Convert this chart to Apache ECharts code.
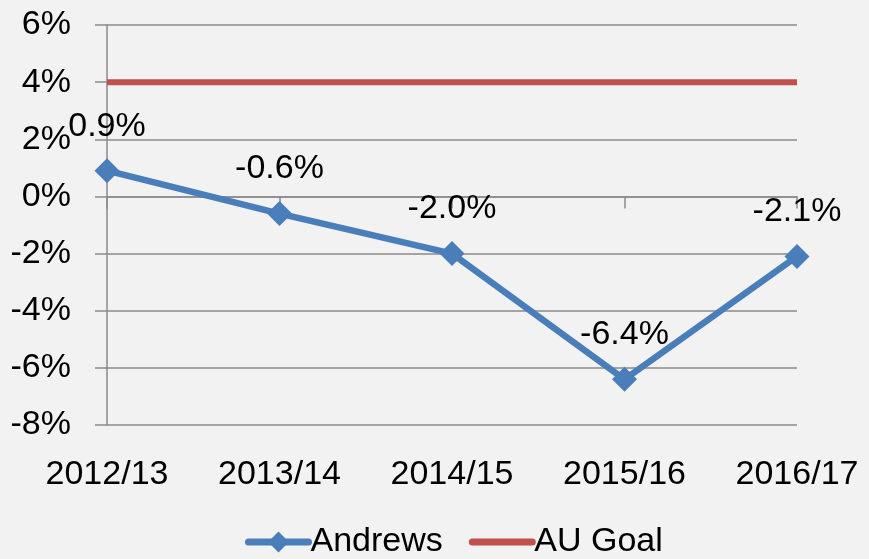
<!DOCTYPE html>
<html>
<head>
<meta charset="utf-8">
<script src="https://cdn.jsdelivr.net/npm/echarts@6/dist/echarts.min.js"></script>
<style>
  html, body { margin: 0; padding: 0; background: #f2f2f2; }
  #chart { width: 869px; height: 559px; }
</style>
</head>
<body>
<div id="chart"></div>
<script>
// data
const years = ['2012/13', '2013/14', '2014/15', '2015/16', '2016/17']
const andrews = [0.9, -0.6, -2.0, -6.4, -2.1]
const auGoal = [4, 4, 4, 4, 4]

const font = 'Liberation Sans'
const gray = '#8a8a8a'
const fs = 34

const chart = echarts.init(document.getElementById('chart'))
const opt = {
    backgroundColor: '#f2f2f2',
    animation: false,
    textStyle: { fontFamily: font },
    grid: { left: 107, right: 72, top: 25, bottom: 134 },
    legend: {
        top: 520,
        left: 240,
        itemWidth: 60,
        itemHeight: 26,
        itemGap: 26,
        lineStyle: { width: 7, cap: 'round' },
        textStyle: { fontSize: fs, color: '#000', fontFamily: font, padding: [0, 0, 0, -3] },
        data: [
            { name: 'Andrews' },
            { name: 'AU Goal', itemStyle: { opacity: 0 } }
        ]
    },
    xAxis: [
        {
            // labels at the bottom
            type: 'category',
            data: years,
            boundaryGap: false,
            axisLine: { show: false, onZero: false },
            axisTick: { show: false },
            axisLabel: { fontSize: fs, color: '#000', margin: 33, fontFamily: font }
        },
        {
            // axis line on zero with ticks
            type: 'category',
            data: years,
            boundaryGap: false,
            position: 'bottom',
            axisLine: { onZero: true, lineStyle: { color: gray, width: 1.5 } },
            axisTick: { show: true, length: 12, lineStyle: { color: gray, width: 1.5 } },
            axisLabel: { show: false }
        }
    ],
    yAxis: {
        type: 'value',
        min: -8,
        max: 6,
        interval: 2,
        axisLine: { show: true, lineStyle: { color: gray, width: 1.5 } },
        axisTick: { show: true, length: 12, lineStyle: { color: gray, width: 1.5 } },
        splitLine: { lineStyle: { color: gray, width: 1.5 } },
        axisLabel: {
            fontSize: fs, color: '#000', margin: 36, fontFamily: font,
            formatter: '{value}%'
        }
    },
    series: [
        {
            name: 'AU Goal',
            type: 'line',
            data: auGoal,
            symbol: 'none',
            color: '#c0504d',
            lineStyle: { width: 6, color: '#c0504d' },
            z: 3
        },
        {
            name: 'Andrews',
            type: 'line',
            data: andrews,
            symbol: 'diamond',
            symbolSize: 25,
            color: '#4a7ebb',
            lineStyle: { width: 6.5, color: '#4a7ebb' },
            itemStyle: { color: '#4a7ebb' },
            label: {
                show: true,
                position: 'top',
                distance: 15,
                fontSize: fs,
                color: '#000',
                fontFamily: font,
                formatter: p => p.value.toFixed(1) + '%'
            },
            z: 4
        }
    ]
}
chart.setOption(opt)
</script>
</body>
</html>
